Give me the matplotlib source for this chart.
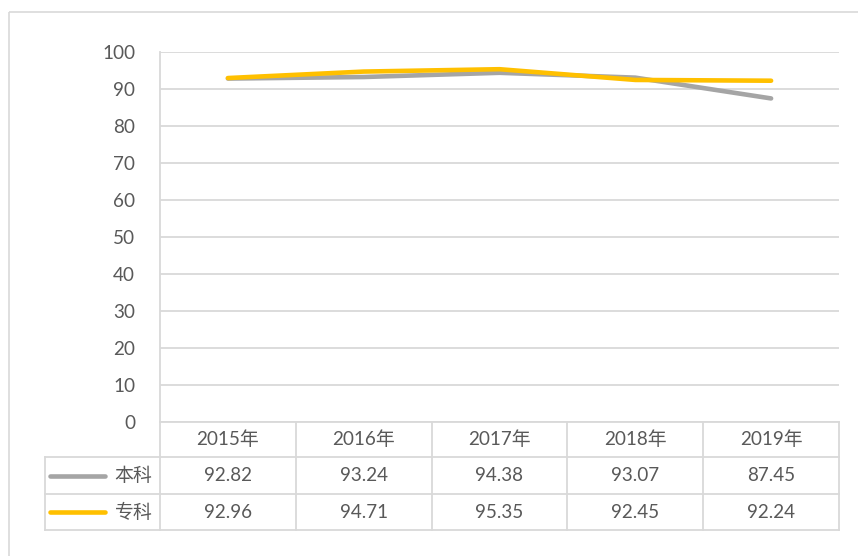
import matplotlib
matplotlib.use("Agg")
import matplotlib.pyplot as plt
from matplotlib.patches import Rectangle
from matplotlib.lines import Line2D
from matplotlib.transforms import blended_transform_factory

plt.rcParams['font.family'] = ['Lato', 'Noto Sans CJK SC', 'DejaVu Sans']

years = ["2015年", "2016年", "2017年", "2018年", "2019年"]
series_names = ["本科", "专科"]
benke = [92.82, 93.24, 94.38, 93.07, 87.45]
zhuanke = [92.96, 94.71, 95.35, 92.45, 92.24]
y_ticks = [0, 10, 20, 30, 40, 50, 60, 70, 80, 90, 100]

colors = ["#A5A5A5", "#FFC000"]
text_color = "#595959"
grid_color = "#D9D9D9"
fs = 13.6

W, H = 858, 556
fig = plt.figure(figsize=(W / 100, H / 100), dpi=100)

# outer chart frame
fig.patches.append(Rectangle((9 / W, 1 - 12 / H), 900 / W, -600 / H,
                             transform=fig.transFigure, fill=False,
                             edgecolor=grid_color, linewidth=1.2))

left, right, top, bottom = 160, 839, 52, 422
ax = fig.add_axes([left / W, 1 - bottom / H, (right - left) / W, (bottom - top) / H])

x = list(range(len(years)))
for vals, c in zip([benke, zhuanke], colors):
    ax.plot(x, vals, color=c, linewidth=3.3, solid_capstyle='round',
            solid_joinstyle='round', zorder=3)

ax.set_xlim(-0.5, len(years) - 0.5)
ax.set_ylim(0, 100)
ax.set_yticks(y_ticks)
ax.set_yticklabels([str(t) for t in y_ticks], color=text_color, fontsize=fs)
ax.tick_params(axis='y', length=0, pad=18)
ax.set_xticks([])
ax.grid(axis='y', color=grid_color, linewidth=1.3)
for s in ['top', 'right', 'bottom']:
    ax.spines[s].set_visible(False)
ax.spines['left'].set_color(grid_color)
ax.spines['left'].set_linewidth(1.3)

# data table under the plot
plot_h = bottom - top
row_edges = [0, -35 / plot_h, -72 / plot_h, -108 / plot_h]
legend_left = -0.5 - (left - 45) / ((right - left) / len(years))
tr = blended_transform_factory(ax.transData, ax.transAxes)
lkw = dict(color=grid_color, linewidth=1.3, transform=tr, clip_on=False)

# horizontal rules
ax.add_line(Line2D([-0.5, len(years) - 0.5], [row_edges[0]] * 2, **lkw))
for r in row_edges[1:]:
    ax.add_line(Line2D([legend_left, len(years) - 0.5], [r, r], **lkw))
# vertical rules
for i in range(len(years) + 1):
    ax.add_line(Line2D([i - 0.5, i - 0.5], [row_edges[0], row_edges[3]], **lkw))
ax.add_line(Line2D([legend_left, legend_left], [row_edges[1], row_edges[3]], **lkw))

def mid(a, b):
    return (a + b) / 2

for i, yr in enumerate(years):
    ax.text(i, mid(row_edges[0], row_edges[1]), yr, transform=tr, ha='center',
            va='center', color=text_color, fontsize=fs)

for k, (name, vals, c) in enumerate(zip(series_names, [benke, zhuanke], colors)):
    yc = mid(row_edges[k + 1], row_edges[k + 2])
    for i, v in enumerate(vals):
        ax.text(i, yc, f"{v:.2f}", transform=tr, ha='center', va='center',
                color=text_color, fontsize=fs)
    ax.add_line(Line2D([legend_left + 0.04, legend_left + 0.44], [yc, yc],
                       color=c, linewidth=3.3, solid_capstyle='round',
                       transform=tr, clip_on=False))
    ax.text(-0.5 - 0.055, yc, name, transform=tr, ha='right', va='center',
            color=text_color, fontsize=fs)

fig.savefig("out.png", dpi=100)
